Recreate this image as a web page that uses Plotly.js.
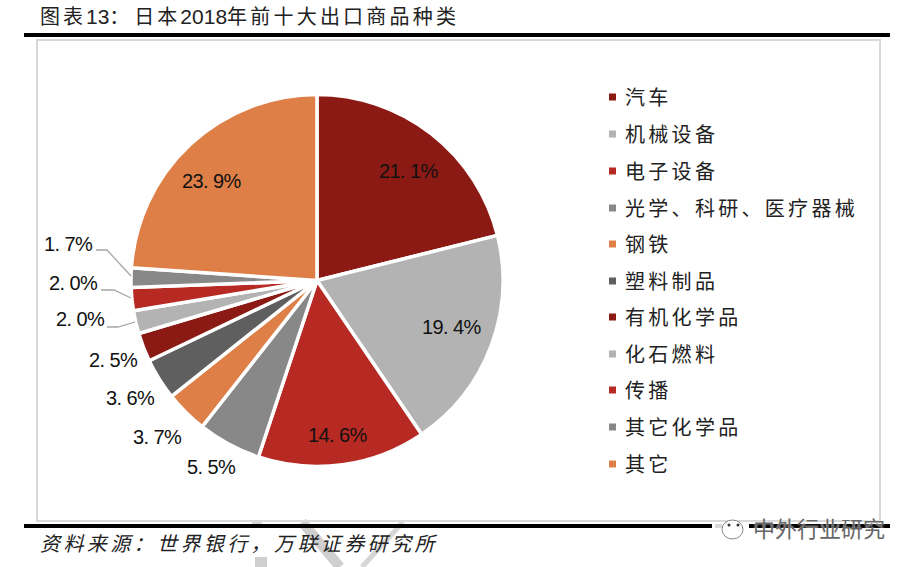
<!DOCTYPE html>
<html><head><meta charset="utf-8">
<script src="https://cdn.plot.ly/plotly-3.0.1.min.js"></script>
<style>html,body{margin:0;padding:0;background:#fff}#c{width:912px;height:567px}</style>
</head><body><div id="c"></div>
<script>
const categories=["汽车","机械设备","电子设备","光学、科研、医疗器械","钢铁","塑料制品","有机化学品","化石燃料","传播","其它化学品","其它"];
const values=[21.1,19.4,14.6,5.5,3.7,3.6,2.5,2.0,2.0,1.7,23.9];
const colors=["#8B1A14","#B3B3B3","#B72A23","#888888","#DE7F47","#5F5F5F","#8B1A14","#B3B3B3","#B72A23","#888888","#DE7F47"];
const labelX=[408,451,337,211,157,130,113,80,73,68,211];
const labelY=[171,327,435,467,437,398,360,319,283,244,181];
const legendY=[97,134,171,208,244,281,317,354,390,427,464];
const W=912,H=567,cx=317,cy=280.5,r=186;
const px=x=>x/W, py=y=>1-y/H;
const CJK='"Liberation Sans","Noto Sans CJK SC",sans-serif';
const NUM='"Liberation Sans",Arial,sans-serif';
const sp=(t,s)=>'<span style="letter-spacing:'+s+'px">'+t+'</span>';
const dg=t=>'<span style="font-size:21px">'+t+'</span>';
const ann=[];
values.forEach((v,i)=>{
 ann.push({x:px(labelX[i]),y:py(labelY[i]),xref:'paper',yref:'paper',showarrow:false,xanchor:'center',yanchor:'middle',
   text:sp(v.toFixed(1).replace('.','. ')+'%',-0.6),font:{family:NUM,size:20,color:'#111'}});
});
const pr=(x0,y0,x1,y1,c)=>({type:'rect',xref:'paper',yref:'paper',x0:px(x0),x1:px(x1),y0:py(y0),y1:py(y1),line:{width:0},fillcolor:c});
const pl=(p,c,w)=>({type:'path',xref:'paper',yref:'paper',path:p.map((q,i)=>(i?'L':'M')+px(q[0])+','+py(q[1])).join(' '),line:{color:c,width:w}});
const shapes=[
 pl([[302,522],[340,567]],'#CFCFCF',10),
 pl([[403,522],[362,567]],'#D6D6D6',5),
 pr(255,557,267,567,'#CFCFCF'),
 pr(252,521,262,524,'#D6D6D6'),
 {type:'rect',xref:'paper',yref:'paper',x0:px(37),x1:px(880),y0:py(40),y1:py(521),line:{color:'#D9D9D9',width:2},fillcolor:'rgba(0,0,0,0)'},
 pr(24,33,890,37,'#000'),
 pr(24,524,890,528,'#000'),
 pr(712,522,749,530,'#fff'),
 pr(715,524,722,528,'#D9D9D9'),
 {type:'circle',xref:'paper',yref:'paper',x0:px(722),x1:px(743),y0:py(520),y1:py(539),line:{color:'#888',width:1},fillcolor:'#fff'},
 {type:'circle',xref:'paper',yref:'paper',x0:px(727.5),x1:px(730.5),y0:py(523.5),y1:py(526.5),line:{width:0},fillcolor:'#333'},
 {type:'circle',xref:'paper',yref:'paper',x0:px(736.5),x1:px(739.5),y0:py(523.5),y1:py(526.5),line:{width:0},fillcolor:'#333'}
];
[[[96,250],[107,250],[131,276]],[[101,290],[114,290],[131,298]],[[107,327],[118,327],[135,322]]].forEach(p=>shapes.push(pl(p,'#A6A6A6',1.3)));
categories.forEach((c,i)=>{
 shapes.push(pr(609,legendY[i]-3.5,616,legendY[i]+3.5,colors[i]));
 ann.push({x:px(623),y:py(legendY[i]+1),xref:'paper',yref:'paper',showarrow:false,xanchor:'left',yanchor:'middle',
   text:sp(c,3.3),font:{family:CJK,size:20,color:'#222'}});
});
ann.push({x:px(38),y:py(17),xref:'paper',yref:'paper',showarrow:false,xanchor:'left',yanchor:'middle',
  text:sp('图表',3)+dg('13')+sp('：',5)+sp('日本',3)+dg('2018')+sp('年前十大出口商品种类',3.2),font:{family:CJK,size:20,color:'#222'}});
ann.push({x:px(38),y:py(544),xref:'paper',yref:'paper',showarrow:false,xanchor:'left',yanchor:'middle',
  text:'<i>'+sp('资料来源：世界银行，万联证券研究所',3.4)+'</i>',font:{family:CJK,size:20,color:'#222'}});
ann.push({x:px(751),y:py(529),xref:'paper',yref:'paper',showarrow:false,xanchor:'left',yanchor:'middle',
  text:'中外行业研究',font:{family:CJK,size:22,color:'#666',shadow:'0 0 2px #fff'}});
Plotly.newPlot('c',[{type:'pie',labels:categories,values:values,sort:false,direction:'clockwise',rotation:0,
  marker:{colors:colors,line:{color:'#fff',width:3.5}},textinfo:'none',hoverinfo:'label+percent',showlegend:false,
  domain:{x:[(cx-r)/W,(cx+r)/W],y:[1-(cy+r)/H,1-(cy-r)/H]}}],
 {width:W,height:H,margin:{l:0,r:0,t:0,b:0},paper_bgcolor:'#fff',showlegend:false,annotations:ann,shapes:shapes},
 {displayModeBar:false,staticPlot:true});
</script></body></html>
